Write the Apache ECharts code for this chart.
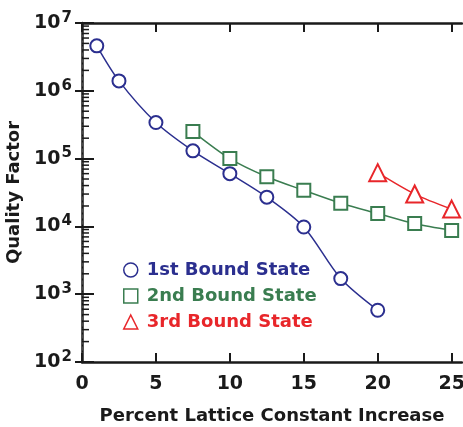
<!DOCTYPE html>
<html><head><meta charset="utf-8">
<script src="https://cdn.jsdelivr.net/npm/echarts@6/dist/echarts.min.js"></script>
<style>html,body{margin:0;padding:0;background:#fff}#c{width:463px;height:427px}</style>
</head><body><div id="c"></div>
<script>
const x1 = [1, 2.5, 5, 7.5, 10, 12.5, 15, 17.5, 20];
const q1 = [4.6e6, 1.4e6, 3.4e5, 1.3e5, 6.0e4, 2.7e4, 9.8e3, 1.7e3, 580];
const x2 = [7.5, 10, 12.5, 15, 17.5, 20, 22.5, 25];
const q2 = [2.5e5, 1.0e5, 5.4e4, 3.4e4, 2.2e4, 1.55e4, 1.1e4, 8.7e3];
const x3 = [20, 22.5, 25];
const q3 = [6.2e4, 3.0e4, 1.8e4];
const names = ['1st Bound State', '2nd Bound State', '3rd Bound State'];
const colors = ['#2b2f8f', '#3a7d50', '#e8262a'];
const xTicks = [0, 5, 10, 15, 20, 25];
const yMin = 100, yMax = 1e7;
const minorVals = [];
for (let e = 2; e < 7; e++) for (let m = 2; m <= 9; m++) minorVals.push(m * Math.pow(10, e));

const font = 'DejaVu Sans';
const ink = '#1a1a1a';
const chart = echarts.init(document.getElementById('c'));
function pairs(xs, ys){ return xs.map((x,i)=>[x, ys[i]]); }
chart.setOption({
  animation: false,
  grid: {left: 82, top: 23, right: 1, bottom: 65, containLabel: false, outerBoundsMode: 'none'},
  legend: {
    orient: 'vertical', left: 118, top: 256, itemGap: 8,
    itemWidth: 14, itemHeight: 14,
    textStyle: {fontFamily: font, fontWeight: 'bold', fontSize: 18, padding: [0,0,0,4]},
    data: names.map((n,i)=>({name: n, icon: ['circle','rect','triangle'][i],
      itemStyle: {color: 'rgba(255,255,255,0)', borderColor: colors[i], borderWidth: 1.5},
      textStyle: {color: colors[i]}}))
  },
  xAxis: [{
    type: 'value', min: 0, max: 25.7,
    axisLine: {lineStyle: {color: ink, width: 2.5}},
    axisTick: {inside: true, length: 9, customValues: xTicks, lineStyle: {color: ink, width: 2}},
    axisLabel: {margin: 13, fontFamily: font, fontWeight: 'bold', fontSize: 19, color: ink,
      customValues: xTicks},
    splitLine: {show: false},
    name: 'Percent Lattice Constant Increase', nameLocation: 'middle', nameGap: 45,
    nameTextStyle: {fontFamily: font, fontWeight: 'bold', fontSize: 18, color: ink}
  }, {
    type: 'value', position: 'top', min: 0, max: 25.7,
    axisLine: {lineStyle: {color: ink, width: 2.5}},
    axisTick: {inside: true, length: 9, customValues: xTicks, lineStyle: {color: ink, width: 2}},
    axisLabel: {show: false}, splitLine: {show: false}
  }],
  yAxis: [{
    type: 'log', min: yMin, max: yMax, logBase: 10,
    axisLine: {lineStyle: {color: ink, width: 2.5}},
    axisTick: {inside: true, length: 12, lineStyle: {color: ink, width: 2}},
    axisLabel: {margin: 10, fontFamily: font, fontWeight: 'bold', fontSize: 19, color: ink,
      formatter: v => '{b|10}{s|' + Math.round(Math.log10(v)) + '}',
      rich: {b: {fontFamily: font, fontWeight: 'bold', fontSize: 19, color: ink},
             s: {fontFamily: font, fontWeight: 'bold', fontSize: 15, color: ink, padding: [0,0,10,1]}}},
    splitLine: {show: false},
    name: 'Quality Factor', nameLocation: 'middle', nameGap: 56, nameRotate: 90,
    nameTextStyle: {fontFamily: font, fontWeight: 'bold', fontSize: 18, color: ink}
  }, {
    type: 'log', min: yMin, max: yMax, logBase: 10, position: 'right',
    axisLine: {lineStyle: {color: '#555', width: 1.5, type: [3, 3]}},
    axisTick: {inside: true, length: 7, lineStyle: {color: ink, width: 2}},
    axisLabel: {show: false}, splitLine: {show: false}
  }],
  series: [
    {type: 'custom', xAxisIndex: 0, yAxisIndex: 0, silent: true, clip: false,
     data: minorVals.map(v => [0, v]),
     renderItem: (params, api) => {
       const p = api.coord([0, api.value(1)]);
       return {type: 'line', shape: {x1: p[0], y1: p[1], x2: p[0] + 7, y2: p[1]},
               style: {stroke: ink, lineWidth: 1.5}};
     }},
    {name: names[0], type: 'line', smooth: 0.3, data: pairs(x1, q1), symbol: 'emptyCircle', symbolSize: 13,
     lineStyle: {color: colors[0], width: 1.5}, itemStyle: {color: colors[0], borderWidth: 1.5}},
    {name: names[1], type: 'line', smooth: 0.3, data: pairs(x2, q2), symbol: 'emptyRect', symbolSize: 13,
     lineStyle: {color: colors[1], width: 1.5}, itemStyle: {color: colors[1], borderWidth: 1.5}},
    {name: names[2], type: 'line', smooth: 0.3, data: pairs(x3, q3), symbol: 'emptyTriangle', symbolSize: 17,
     lineStyle: {color: colors[2], width: 1.5}, itemStyle: {color: colors[2], borderWidth: 1.5}}
  ]
});
</script></body></html>
